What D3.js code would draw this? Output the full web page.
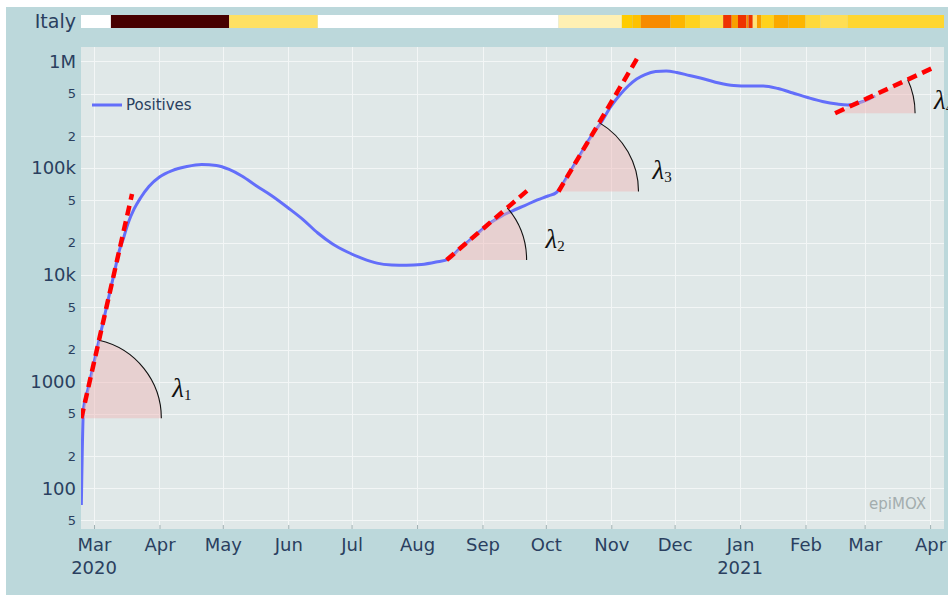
<!DOCTYPE html>
<html lang="en">
<head>
<meta charset="UTF-8">
<title>Italy - Positives</title>
<script src="https://cdn.jsdelivr.net/npm/d3@7"></script>
<style>
body { margin: 0; background: #fff; }
text { font-family: "DejaVu Sans", Verdana, sans-serif; fill: #2a3f5f; }
text.lam, text.lam tspan { font-family: "Liberation Serif", "Times New Roman", serif; fill: #111; }
</style>
</head>
<body>
<div id="chart"></div>
<script>
// ---- data ----
var dates = ["2020-02-24","2020-02-25","2020-02-27","2020-03-01","2020-03-03","2020-03-05","2020-03-07",
  "2020-03-09","2020-03-11","2020-03-13","2020-03-15","2020-03-17","2020-03-20","2020-03-23","2020-03-27",
  "2020-04-01","2020-04-07","2020-04-14","2020-04-21","2020-04-28","2020-05-04","2020-05-10","2020-05-17",
  "2020-05-24","2020-06-01","2020-06-08","2020-06-15","2020-06-22","2020-06-29","2020-07-06","2020-07-13",
  "2020-07-20","2020-07-27","2020-08-03","2020-08-10","2020-08-16","2020-08-21","2020-08-26","2020-08-31",
  "2020-09-05","2020-09-10","2020-09-15","2020-09-21","2020-09-27","2020-10-02","2020-10-06","2020-10-12",
  "2020-10-17","2020-10-22","2020-10-27","2020-11-01","2020-11-05","2020-11-09","2020-11-13","2020-11-17",
  "2020-11-22","2020-11-27","2020-12-02","2020-12-08","2020-12-15","2020-12-22","2020-12-29","2021-01-05",
  "2021-01-12","2021-01-19","2021-01-26","2021-02-02","2021-02-09","2021-02-16","2021-02-21","2021-02-26",
  "2021-03-03","2021-03-06"];
var positives = [70,552,828,1510,2270,3390,5090,
  7620,11400,17000,22200,30000,41500,52600,67500,
  82800,95100,103700,108300,106000,97300,84500,68100,
  55500,42400,33000,24700,19500,16400,14300,12900,
  12400,12300,12500,13200,14100,17500,21200,25800,
  31000,35600,39700,44700,50400,54900,59200,89200,
  131000,192300,265000,383000,485000,589000,686000,755000,
  806000,815000,789000,739000,686000,629000,596000,589000,
  589000,558000,507000,460000,422000,399000,391000,408000,
  445000,475000];

// growth-rate tangents (start / end of each dashed line)
var tanStartDates = ["2020-02-24","2020-08-15","2020-10-07","2021-02-15"];
var tanStartVals  = [453, 13800, 60500, 327000];
var tanEndDates   = ["2020-03-19","2020-09-24","2020-11-14","2021-04-03"];
var tanEndVals    = [57200, 66200, 1132000, 884000];
var tanNames      = ["1","2","3","4"];

// restriction strip on top (level per period)
var barStarts = ["2020-02-23","2020-03-09","2020-05-04","2020-06-15","2020-10-07","2020-11-06","2020-11-11",
  "2020-11-15","2020-11-29","2020-12-06","2020-12-13","2020-12-24","2020-12-28","2020-12-31","2021-01-04",
  "2021-01-05","2021-01-07","2021-01-09","2021-01-11","2021-01-17","2021-01-24","2021-02-01","2021-02-08",
  "2021-02-21"];
var barLevels = [0,100,25,0,10,40,45,60,50,37,30,70,55,70,60,70,20,55,37,53,50,33,28,35];
var barEnd = "2021-04-08";

// axis ticks
var monthDates  = ["2020-03-01","2020-04-01","2020-05-01","2020-06-01","2020-07-01","2020-08-01","2020-09-01",
  "2020-10-01","2020-11-01","2020-12-01","2021-01-01","2021-02-01","2021-03-01","2021-04-01"];
var monthLabels = ["Mar","Apr","May","Jun","Jul","Aug","Sep","Oct","Nov","Dec","Jan","Feb","Mar","Apr"];
var yearDates   = ["2020-03-01","2021-01-01"];
var yearLabels  = ["2020","2021"];
var yTicks      = [50,100,200,500,1000,2000,5000,1e4,2e4,5e4,1e5,2e5,5e5,1e6];
var yTickLabels = ["5","100","2","5","1000","2","5","10k","2","5","100k","2","5","1M"];

// ---- layout ----
var W = 948, H = 595;
var margin = {top: 47, right: 4, bottom: 66, left: 81};
var width = W - margin.left - margin.right,
    height = H - margin.top - margin.bottom;
var parse = d3.utcParse("%Y-%m-%d");
var labelOffsets = [[91,-21],[99,-12],[94,-12],[99,-4]];
var wedgeR = 80;

var svg = d3.select("#chart").append("svg")
    .attr("width", W).attr("height", H);

svg.append("rect").attr("x", 6).attr("y", 7).attr("width", W - 6).attr("height", H - 7)
    .attr("fill", "#bcd8db");

var x = d3.scaleUtc()
    .domain([new Date(Date.UTC(2020,1,23,20)), new Date(Date.UTC(2021,3,7,14))])
    .range([0, width]);
var y = d3.scaleLog()
    .domain([41.6, 1.367e6])
    .range([height, 0]);

var barColor = d3.scaleLinear()
    .domain([0,10,20,30,35,40,50,55,60,70,100])
    .range(["#ffffff","#fff0b3","#ffe27a","#ffdd4a","#ffd630","#ffcc00","#fdb600","#f8a000","#f78b00","#ee3300","#470000"]);

// top strip
svg.append("text").attr("x", 76).attr("y", 28).attr("text-anchor", "end")
    .style("font-size", "19px").text("Italy");
var strip = svg.append("g").attr("transform", "translate(" + margin.left + ",15)");
strip.selectAll("rect").data(barStarts).enter().append("rect")
    .attr("x", function(d) { return Math.max(0, x(parse(d))); })
    .attr("width", function(d, i) {
      var end = i < barStarts.length - 1 ? barStarts[i + 1] : barEnd;
      return Math.min(width, x(parse(end))) - Math.max(0, x(parse(d)));
    })
    .attr("y", 0).attr("height", 13)
    .attr("fill", function(d, i) { return barColor(barLevels[i]); });

var g = svg.append("g").attr("transform", "translate(" + margin.left + "," + margin.top + ")");
g.append("rect").attr("width", width).attr("height", height).attr("fill", "#e0e8e8");

g.append("clipPath").attr("id", "clip").append("rect").attr("width", width).attr("height", height);

// grid
g.append("g").selectAll("line").data(yTicks).enter().append("line")
    .attr("x1", 0).attr("x2", width)
    .attr("y1", function(d) { return Math.round(y(d)) + 0.5; })
    .attr("y2", function(d) { return Math.round(y(d)) + 0.5; })
    .attr("stroke", "#f3f6f6").attr("stroke-width", 1);
g.append("g").selectAll("line").data(monthDates).enter().append("line")
    .attr("y1", 0).attr("y2", height)
    .attr("x1", function(d) { return Math.round(x(parse(d))) + 0.5; })
    .attr("x2", function(d) { return Math.round(x(parse(d))) + 0.5; })
    .attr("stroke", "#f3f6f6").attr("stroke-width", 1);

// axes
var xAxis = g.append("g").attr("transform", "translate(0," + height + ")")
    .call(d3.axisBottom(x).tickValues(monthDates.map(parse))
      .tickFormat(function(d, i) { return monthLabels[i]; })
      .tickSize(-4).tickPadding(9));
xAxis.select(".domain").remove();
xAxis.selectAll("line").attr("stroke", "#9fb0b2");
xAxis.selectAll("text").style("font-size", "18px").attr("fill", "#2a3f5f");
g.append("g").selectAll("text").data(yearDates).enter().append("text")
    .attr("x", function(d) { return x(parse(d)); })
    .attr("y", height + 45).attr("text-anchor", "middle")
    .style("font-size", "18px")
    .text(function(d, i) { return yearLabels[i]; });

var yAxis = g.append("g")
    .call(d3.axisLeft(y).tickValues(yTicks)
      .tickFormat(function(d, i) { return yTickLabels[i]; })
      .tickSize(0).tickPadding(5));
yAxis.select(".domain").remove();
yAxis.selectAll("text").attr("fill", "#2a3f5f")
    .style("font-size", function(d, i) { return yTickLabels[i].length > 1 ? "18px" : "13px"; });

// watermark
g.append("text").attr("x", 845).attr("y", 462).attr("text-anchor", "end")
    .style("font-size", "15px").style("fill", "#a3adae").text("epiMOX");

// curve
var plot = g.append("g").attr("clip-path", "url(#clip)");
var line = d3.line()
    .x(function(d, i) { return x(parse(d)); })
    .y(function(d, i) { return y(positives[i]); })
    .curve(d3.curveMonotoneX);
plot.append("path").datum(dates)
    .attr("d", line)
    .attr("fill", "none").attr("stroke", "#636efa").attr("stroke-width", 3);

// growth annotations
tanNames.forEach(function(name, i) {
  var x0 = x(parse(tanStartDates[i])), y0 = y(tanStartVals[i]);
  var x1 = x(parse(tanEndDates[i])), y1 = y(tanEndVals[i]);
  var th = Math.atan2(y0 - y1, x1 - x0);

  var sector = d3.path();
  sector.moveTo(x0, y0);
  sector.lineTo(x0 + wedgeR, y0);
  sector.arc(x0, y0, wedgeR, 0, -th, true);
  sector.closePath();
  plot.append("path").attr("d", sector.toString())
      .attr("fill", "#f0b4b4").attr("fill-opacity", 0.45);

  var arc = d3.path();
  arc.moveTo(x0 + wedgeR, y0);
  arc.arc(x0, y0, wedgeR, 0, -th, true);
  plot.append("path").attr("d", arc.toString())
      .attr("fill", "none").attr("stroke", "#111").attr("stroke-width", 1.1);

  plot.append("line")
      .attr("x1", x0).attr("y1", y0).attr("x2", x1).attr("y2", y1)
      .attr("stroke", "#ff0000").attr("stroke-width", 4.5)
      .attr("stroke-dasharray", "10,6");

  var t = g.append("text").attr("class", "lam")
      .attr("x", x0 + labelOffsets[i][0]).attr("y", y0 + labelOffsets[i][1]);
  t.append("tspan").style("font-size", "27px").style("font-style", "italic").text("λ");
  t.append("tspan").attr("dy", 3).style("font-size", "15px").text(name);
});

// legend
g.append("line").attr("x1", 11).attr("x2", 41).attr("y1", 58).attr("y2", 58)
    .attr("stroke", "#636efa").attr("stroke-width", 3);
g.append("text").attr("x", 45).attr("y", 63).style("font-size", "15px").text("Positives");
</script>
</body>
</html>
